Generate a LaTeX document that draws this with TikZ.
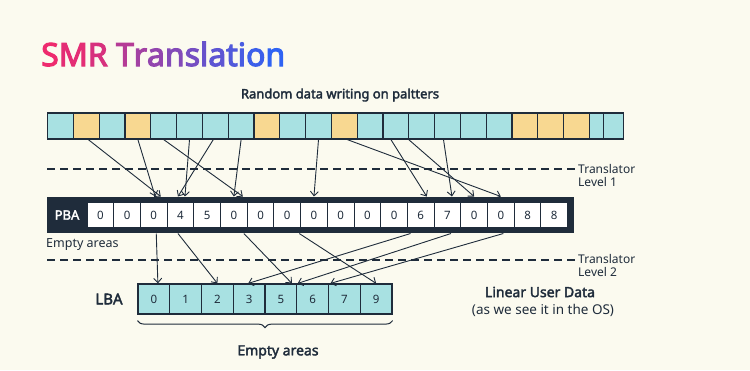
\documentclass[tikz,border=0pt]{standalone}
\usepackage{fontspec}
\setmainfont{Noto Sans}[BoldFont={Noto Sans},BoldFeatures={FakeBold=2.5}]
\newfontfamily\titlefont{Noto Sans}[FakeBold=3.5]
\usetikzlibrary{arrows.meta,decorations.pathreplacing}

\definecolor{bgcream}{HTML}{FBFAEF}
\definecolor{navy}{HTML}{1F2C3B}
\definecolor{cy}{HTML}{A8E1E2}
\definecolor{yl}{HTML}{F8D891}
\definecolor{tpink}{HTML}{EE2A6E}
\definecolor{tblue}{HTML}{2F63F3}

\tikzset{
  stripcell/.style={draw=navy,line width=1.2pt,minimum height=26pt,inner sep=0pt,anchor=west},
  pbacell/.style={fill=white,draw=navy,line width=1pt,minimum width=26.7pt,minimum height=25pt,
    inner sep=0pt,font=\fontsize{11.5}{13}\selectfont},
  lbacell/.style={fill=cy,draw=navy,line width=1.2pt,minimum width=31.75pt,minimum height=30pt,
    inner sep=0pt,font=\fontsize{11.5}{13}\selectfont},
  maparrow/.style={navy,line width=0.9pt,-{Straight Barb[length=4.5pt,width=8pt]}},
  transline/.style={navy,line width=1.4pt,dash pattern=on 8pt off 5pt},
}

\begin{document}
\begin{tikzpicture}[x=1pt,y=-1pt]
\useasboundingbox (0,0) rectangle (750,370);
\fill[bgcream] (0,0) rectangle (750,370);

% title
\node[anchor=base west,inner sep=0pt,font=\titlefont\fontsize{32}{36}\selectfont] (title) at (41,66)
  {\textcolor{tpink}{S}\textcolor{tblue!5!tpink}{M}\textcolor{tblue!12!tpink}{R}
   \textcolor{tblue!30!tpink}{T}\textcolor{tblue!40!tpink}{r}\textcolor{tblue!48!tpink}{a}%
   \textcolor{tblue!56!tpink}{n}\textcolor{tblue!63!tpink}{s}\textcolor{tblue!70!tpink}{l}%
   \textcolor{tblue!76!tpink}{a}\textcolor{tblue!82!tpink}{t}\textcolor{tblue!87!tpink}{i}%
   \textcolor{tblue!93!tpink}{o}\textcolor{tblue}{n}};

\node[navy,font=\bfseries\fontsize{13}{15}\selectfont] (random) at (340,95) {Random data writing on paltters};

% platter strip
\foreach \c [count=\i from 0] in {cy,yl,cy,yl,cy,cy,cy,cy,yl,cy,cy,yl,cy,cy,cy,cy,cy,cy,yl,yl,yl}
  \node[stripcell,fill=\c,minimum width=25.8pt] (t\i) at (47+25.8*\i,126) {};
\node[stripcell,fill=cy,minimum width=14pt] (t21) at (588.8,126) {};
\node[stripcell,fill=cy,minimum width=20pt] (t22) at (602.8,126) {};

% translator levels
\draw[transline] (47,169) -- (575,169);
\draw[transline] (47,260) -- (575,260);
\node[navy,anchor=west,align=left,inner sep=0pt,font=\fontsize{12}{13}\selectfont] (lev1) at (578,175.5) {Translator\\Level 1};
\node[navy,anchor=west,align=left,inner sep=0pt,font=\fontsize{12}{13}\selectfont] (lev2) at (578,265) {Translator\\Level 2};

% PBA
\node[fill=navy,minimum width=527pt,minimum height=36pt,anchor=north west,inner sep=0pt] (pba) at (47,197) {};
\node[text=white,font=\bfseries\fontsize{13}{15}\selectfont] (pbalabel) at (67,215) {PBA};
\foreach \v [count=\i from 0] in {0,0,0,4,5,0,0,0,0,0,0,0,6,7,0,0,8,8}
  \node[pbacell,text=navy] (p\i) at (100.35+26.7*\i,215) {\v};
\node[navy,anchor=west,inner sep=0pt,font=\fontsize{12.5}{15}\selectfont] (empty1) at (46,245) {Empty areas};

% LBA
\node[navy,font=\bfseries\fontsize{15}{17}\selectfont] (lba) at (109,299) {LBA};
\foreach \v [count=\i from 0] in {0,1,2,3,5,6,7,9}
  \node[lbacell,text=navy] (l\i) at (153.9+31.75*\i,299) {\v};
\draw[navy,line width=1pt,decorate,decoration={brace,mirror,amplitude=7pt}]
  ([yshift=-6pt]l0.south west) -- ([yshift=-6pt]l7.south east);
\node[navy,font=\bfseries\fontsize{14}{17}\selectfont] (empty2) at (278,352) {Empty areas};

\node[navy,font=\bfseries\fontsize{14}{17}\selectfont] (linear) at (540,292) {Linear User Data};
\node[navy,font=\fontsize{13.5}{15}\selectfont] (os) at (543,310) {(as we see it in the OS)};

% level 1 mapping
\foreach \a/\sa/\b/\sb in {1/2/2/7, 3/0/2/1.5, 4/0/5/9, 5/0/3/4.5, 6/-2/3/-2.5, 7/0/5/0,
    10/0/8/0, 11/3/15/0, 13/-5/12/6, 14/-13/14/0, 15/-4/13/4.5}
  \draw[maparrow] ([xshift=\sa pt]t\a.south) -- ([xshift=\sb pt,yshift=5.5pt]p\b.north);

% level 2 mapping
\foreach \a/\sa/\b/\sb in {2/2.5/0/4, 3/-2.5/2/0, 5/10/4/11, 7/12/7/0,
    11/16.5/3/-1, 13/3.5/5/-15, 15/2.5/6/-14}
  \draw[maparrow] ([xshift=\sa pt,yshift=-5.5pt]p\a.south) -- ([xshift=\sb pt]l\b.north);
\end{tikzpicture}
\end{document}
